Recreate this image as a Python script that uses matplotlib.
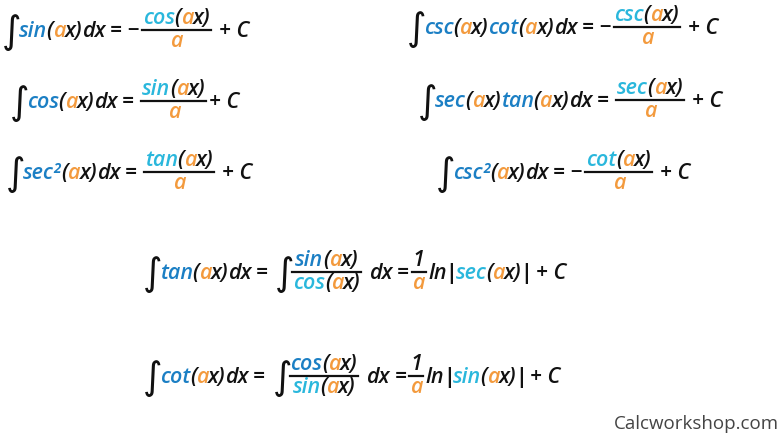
import matplotlib
matplotlib.use("Agg")
import matplotlib.pyplot as plt

BLUE = "#1b7fc4"
CYAN = "#2ab7dc"
ORANGE = "#f39a3d"
BLACK = "#111111"

A = [("(", BLACK), ("a", ORANGE), ("x)", BLACK)]
def fn(name, col):
    return [(name, col)] + A

formulas = [
    (2, 30, [("int",), ("t", fn("sin", BLUE) + [("dx", BLACK), (" = −", BLACK)]), ("frac", fn("cos", CYAN), [("a", ORANGE)]), ("t", [(" + C", BLACK)])]),
    (10, 101, [("int",), ("t", fn("cos", BLUE) + [("dx", BLACK), (" = ", BLACK)]), ("frac", fn("sin", CYAN), [("a", ORANGE)]), ("t", [("+ C", BLACK)])]),
    (6, 172, [("int",), ("t", [("sec²", BLUE)] + A + [("dx", BLACK), (" = ", BLACK)]), ("frac", fn("tan", CYAN), [("a", ORANGE)]), ("t", [(" + C", BLACK)])]),
    (407, 27, [("int",), ("t", fn("csc", BLUE) + fn("cot", BLUE) + [("dx", BLACK), (" = −", BLACK)]), ("frac", fn("csc", CYAN), [("a", ORANGE)]), ("t", [(" + C", BLACK)])]),
    (418, 100, [("int",), ("t", fn("sec", BLUE) + fn("tan", BLUE) + [("dx", BLACK), (" = ", BLACK)]), ("frac", fn("sec", CYAN), [("a", ORANGE)]), ("t", [(" + C", BLACK)])]),
    (436, 172, [("int",), ("t", [("csc²", BLUE)] + A + [("dx", BLACK), (" = −", BLACK)]), ("frac", fn("cot", CYAN), [("a", ORANGE)]), ("t", [(" + C", BLACK)])]),
    (143, 272, [("int",), ("t", fn("tan", BLUE) + [("dx", BLACK), (" = ", BLACK)]), ("int",), ("frac", fn("sin", BLUE), fn("cos", CYAN)),
                ("t", [(" dx", BLACK), (" =", BLACK)]), ("frac", [("1", BLACK)], [("a", ORANGE)]), ("t", [("ln", BLACK), ("|", BLACK)] + fn("sec", CYAN) + [("|", BLACK), (" + C", BLACK)])]),
    (143, 376, [("int",), ("t", fn("cot", BLUE) + [("dx", BLACK), (" = ", BLACK)]), ("int",), ("frac", fn("cos", BLUE), fn("sin", CYAN)),
                ("t", [(" dx", BLACK), (" =", BLACK)]), ("frac", [("1", BLACK)], [("a", ORANGE)]), ("t", [("ln", BLACK), ("|", BLACK)] + fn("sin", CYAN) + [("|", BLACK), (" + C", BLACK)])]),
]
watermark = "Calcworkshop.com"

FS = 15.5
FAM = ["Open Sans", "DejaVu Sans"]

fig = plt.figure(figsize=(7.83, 4.37), dpi=100)
ax = fig.add_axes([0, 0, 1, 1])
ax.set_xlim(0, 783)
ax.set_ylim(437, 0)
ax.axis("off")
r = fig.canvas.get_renderer()

def seq(x, y, segs, draw=True):
    x0 = x
    for s, c in segs:
        lead = len(s) - len(s.lstrip(" "))
        trail = len(s) - len(s.rstrip(" "))
        x += 5 * lead
        s2 = s.strip(" ")
        if s2 == "|":
            t = ax.text(x - 1, y, s2, color=c, fontsize=FS, family=FAM, style="normal",
                        va="baseline", ha="left", weight="bold")
        else:
            t = ax.text(x, y, s2, color=c, fontsize=FS, family=FAM, style="italic",
                        va="baseline", ha="left", weight="semibold")
        w = t.get_window_extent(r).width
        if not draw:
            t.remove()
        x += w - 0.5 + 5 * trail - (2 if s2 == "|" else 0)
    return x - x0

for x, c, parts in formulas:
    for p in parts:
        if p[0] == "int":
            ax.text(x, c + 13, "∫", fontsize=27, family=["DejaVu Sans"], color=BLACK, va="baseline", ha="left")
            x += 17
        elif p[0] == "t":
            x += seq(x, c + 7, p[1]) + 3
        else:
            wn = seq(0, 0, p[1], draw=False)
            wd = seq(0, 0, p[2], draw=False)
            w = max(wn, wd) + 2
            seq(x + (w - wn) / 2, c - 6, p[1])
            seq(x + (w - wd) / 2, c + 17, p[2])
            ax.plot([x, x + w], [c, c], color=BLACK, lw=1.6)
            x += w + 3

ax.text(779, 429, watermark, fontsize=13.5, family=FAM, color="#444444", ha="right", va="baseline")
fig.savefig("out.png", dpi=100)
